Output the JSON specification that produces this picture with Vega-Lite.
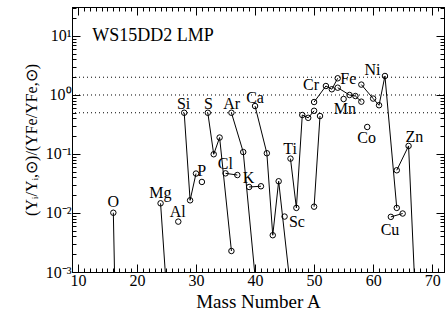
{
  "$schema": "https://vega.github.io/schema/vega-lite/v6.json",
  "width": 372,
  "height": 265,
  "autosize": "none",
  "padding": {"left": 72, "top": 7, "right": 1, "bottom": 40},
  "background": "white",
  "view": {"stroke": "black", "strokeWidth": 1},
  "config": {"font": "Liberation Serif", "text": {"font": "Liberation Serif"}, "axis": {"labelFont": "Liberation Serif", "titleFont": "Liberation Serif"}},
  "datasets": {
    "iso": [
      {"el": "O", "A": 16, "r": 0.0101}, {"el": "O", "A": 17, "r": 1e-7}, {"el": "O", "A": 18, "r": 1e-7},
      {"el": "Mg", "A": 24, "r": 0.0146}, {"el": "Mg", "A": 25, "r": 0.0005}, {"el": "Mg", "A": 26, "r": 0.0003},
      {"el": "Al", "A": 27, "r": 0.00714},
      {"el": "Si", "A": 28, "r": 0.5}, {"el": "Si", "A": 29, "r": 0.0164}, {"el": "Si", "A": 30, "r": 0.0466},
      {"el": "P", "A": 31, "r": 0.0336},
      {"el": "S", "A": 32, "r": 0.5}, {"el": "S", "A": 33, "r": 0.099}, {"el": "S", "A": 34, "r": 0.19}, {"el": "S", "A": 36, "r": 0.00227},
      {"el": "Cl", "A": 35, "r": 0.047}, {"el": "Cl", "A": 37, "r": 0.044},
      {"el": "Ar", "A": 36, "r": 0.5}, {"el": "Ar", "A": 38, "r": 0.108}, {"el": "Ar", "A": 40, "r": 0.00085},
      {"el": "K", "A": 39, "r": 0.0276}, {"el": "K", "A": 41, "r": 0.0284},
      {"el": "Ca", "A": 40, "r": 0.65}, {"el": "Ca", "A": 42, "r": 0.103}, {"el": "Ca", "A": 43, "r": 0.0042}, {"el": "Ca", "A": 44, "r": 0.0345}, {"el": "Ca", "A": 46, "r": 0.00054}, {"el": "Ca", "A": 48, "r": 1e-5},
      {"el": "Sc", "A": 45, "r": 0.0087},
      {"el": "Ti", "A": 46, "r": 0.0835}, {"el": "Ti", "A": 47, "r": 0.0122}, {"el": "Ti", "A": 48, "r": 0.458}, {"el": "Ti", "A": 49, "r": 0.41}, {"el": "Ti", "A": 50, "r": 0.54},
      {"el": "V", "A": 50, "r": 0.0128}, {"el": "V", "A": 51, "r": 0.44},
      {"el": "Cr", "A": 50, "r": 0.76}, {"el": "Cr", "A": 52, "r": 1.42}, {"el": "Cr", "A": 53, "r": 1.25}, {"el": "Cr", "A": 54, "r": 1.92},
      {"el": "Mn", "A": 55, "r": 0.855},
      {"el": "Fe", "A": 54, "r": 1.33}, {"el": "Fe", "A": 56, "r": 1.0}, {"el": "Fe", "A": 57, "r": 0.96}, {"el": "Fe", "A": 58, "r": 0.77},
      {"el": "Co", "A": 59, "r": 0.287},
      {"el": "Ni", "A": 58, "r": 1.5}, {"el": "Ni", "A": 60, "r": 0.87}, {"el": "Ni", "A": 61, "r": 0.67}, {"el": "Ni", "A": 62, "r": 2.1}, {"el": "Ni", "A": 64, "r": 0.0122},
      {"el": "Cu", "A": 63, "r": 0.0086}, {"el": "Cu", "A": 65, "r": 0.0098},
      {"el": "Zn", "A": 64, "r": 0.053}, {"el": "Zn", "A": 66, "r": 0.137}, {"el": "Zn", "A": 67, "r": 0.0008}, {"el": "Zn", "A": 68, "r": 0.0003}, {"el": "Zn", "A": 70, "r": 1e-5}
    ],
    "labels": [
      {"t": "O", "A": 16, "r": 0.0154},
      {"t": "Mg", "A": 23.96, "r": 0.0216},
      {"t": "Al", "A": 26.89, "r": 0.0102},
      {"t": "Si", "A": 27.9, "r": 0.715},
      {"t": "P", "A": 30.95, "r": 0.0515},
      {"t": "S", "A": 32.09, "r": 0.715},
      {"t": "Cl", "A": 34.96, "r": 0.0669},
      {"t": "Ar", "A": 36.03, "r": 0.715},
      {"t": "K", "A": 38.91, "r": 0.0387},
      {"t": "Ca", "A": 40.0, "r": 0.904},
      {"t": "Ti", "A": 45.92, "r": 0.1235},
      {"t": "Sc", "A": 47.1, "r": 0.00704},
      {"t": "Cr", "A": 49.47, "r": 1.46},
      {"t": "Fe", "A": 55.79, "r": 1.85},
      {"t": "Mn", "A": 55.23, "r": 0.573},
      {"t": "Ni", "A": 59.9, "r": 2.62},
      {"t": "Co", "A": 58.89, "r": 0.19},
      {"t": "Zn", "A": 66.97, "r": 0.197},
      {"t": "Cu", "A": 62.85, "r": 0.00515}
    ],
    "refs": [{"r": 0.5}, {"r": 1}, {"r": 2}],
    "ttl": [{"t": "WS15DD2 LMP", "A": 12.44, "r": 10}]
  },
  "resolve": {"axis": {"x": "independent", "y": "independent"}},
  "layer": [
    {
      "data": {"name": "refs"},
      "mark": {"type": "rule", "color": "black", "strokeWidth": 1, "strokeDash": [1, 3]},
      "encoding": {
        "y": {
          "field": "r", "type": "quantitative",
          "scale": {"type": "log", "domain": [0.001, 31]},
          "axis": {
            "orient": "left",
            "values": [0.001, 0.002, 0.003, 0.004, 0.005, 0.006, 0.007, 0.008, 0.009, 0.01, 0.02, 0.03, 0.04, 0.05, 0.06, 0.07, 0.08, 0.09, 0.1, 0.2, 0.3, 0.4, 0.5, 0.6, 0.7, 0.8, 0.9, 1, 2, 3, 4, 5, 6, 7, 8, 9, 10, 20, 30],
            "labelExpr": "datum.value == 0.001 ? '10⁻³' : datum.value == 0.01 ? '10⁻²' : datum.value == 0.1 ? '10⁻¹' : datum.value == 1 ? '10⁰' : datum.value == 10 ? '10¹' : ''",
            "tickSize": {"condition": {"test": "indexof([0.001, 0.01, 0.1, 1, 10], datum.value) >= 0", "value": -8}, "value": -4},
            "tickColor": "black", "domainColor": "black", "grid": false,
            "labelFont": "Liberation Serif", "labelFontSize": 16, "labelColor": "black", "labelPadding": 9, "labelFlush": false, "labelOverlap": false,
            "title": "(Yᵢ/Yᵢ,⊙)/(YFe/YFe,⊙)", "titleFont": "Liberation Serif", "titleFontSize": 16, "titleFontWeight": "normal", "titleColor": "black", "titlePadding": 6
          }
        }
      }
    },
    {
      "data": {"name": "iso"},
      "mark": {"type": "line", "color": "black", "strokeWidth": 1, "clip": true},
      "encoding": {
        "x": {
          "field": "A", "type": "quantitative",
          "scale": {"domain": [9, 72], "nice": false, "zero": false},
          "axis": {
            "orient": "bottom",
            "values": [9, 10, 11, 12, 13, 14, 15, 16, 17, 18, 19, 20, 21, 22, 23, 24, 25, 26, 27, 28, 29, 30, 31, 32, 33, 34, 35, 36, 37, 38, 39, 40, 41, 42, 43, 44, 45, 46, 47, 48, 49, 50, 51, 52, 53, 54, 55, 56, 57, 58, 59, 60, 61, 62, 63, 64, 65, 66, 67, 68, 69, 70, 71, 72],
            "labelExpr": "datum.value % 10 == 0 ? datum.label : ''",
            "tickSize": {"condition": {"test": "datum.value % 10 == 0", "value": -8}, "value": -4},
            "tickColor": "black", "domainColor": "black", "grid": false,
            "labelFont": "Liberation Serif", "labelFontSize": 16, "labelColor": "black", "labelPadding": 8, "labelFlush": false, "labelOverlap": false,
            "title": "Mass Number A", "titleFont": "Liberation Serif", "titleFontSize": 19, "titleFontWeight": "normal", "titleColor": "black", "titlePadding": 0
          }
        },
        "y": {"field": "r", "type": "quantitative", "scale": {"type": "log", "domain": [0.001, 31]}, "axis": null},
        "detail": {"field": "el"},
        "order": {"field": "A"}
      }
    },
    {
      "data": {"name": "iso"},
      "mark": {"type": "point", "shape": "circle", "filled": false, "color": "black", "size": 30, "strokeWidth": 1, "opacity": 1, "clip": true},
      "encoding": {
        "x": {
          "field": "A", "type": "quantitative",
          "scale": {"domain": [9, 72], "nice": false, "zero": false},
          "axis": {
            "orient": "top",
            "values": [9, 10, 11, 12, 13, 14, 15, 16, 17, 18, 19, 20, 21, 22, 23, 24, 25, 26, 27, 28, 29, 30, 31, 32, 33, 34, 35, 36, 37, 38, 39, 40, 41, 42, 43, 44, 45, 46, 47, 48, 49, 50, 51, 52, 53, 54, 55, 56, 57, 58, 59, 60, 61, 62, 63, 64, 65, 66, 67, 68, 69, 70, 71, 72],
            "labels": false, "title": null,
            "tickSize": {"condition": {"test": "datum.value % 10 == 0", "value": -8}, "value": -4},
            "tickColor": "black", "domainColor": "black", "grid": false
          }
        },
        "y": {
          "field": "r", "type": "quantitative",
          "scale": {"type": "log", "domain": [0.001, 31]},
          "axis": {
            "orient": "right",
            "values": [0.001, 0.002, 0.003, 0.004, 0.005, 0.006, 0.007, 0.008, 0.009, 0.01, 0.02, 0.03, 0.04, 0.05, 0.06, 0.07, 0.08, 0.09, 0.1, 0.2, 0.3, 0.4, 0.5, 0.6, 0.7, 0.8, 0.9, 1, 2, 3, 4, 5, 6, 7, 8, 9, 10, 20, 30],
            "labels": false, "title": null,
            "tickSize": {"condition": {"test": "indexof([0.001, 0.01, 0.1, 1, 10], datum.value) >= 0", "value": -8}, "value": -4},
            "tickColor": "black", "domainColor": "black", "grid": false
          }
        }
      }
    },
    {
      "data": {"name": "labels"},
      "mark": {"type": "text", "font": "Liberation Serif", "fontSize": 16, "color": "black", "align": "center", "baseline": "middle"},
      "encoding": {
        "x": {"field": "A", "type": "quantitative", "scale": {"domain": [9, 72], "nice": false, "zero": false}, "axis": null},
        "y": {"field": "r", "type": "quantitative", "scale": {"type": "log", "domain": [0.001, 31]}, "axis": null},
        "text": {"field": "t"}
      }
    },
    {
      "data": {"name": "ttl"},
      "mark": {"type": "text", "font": "Liberation Serif", "fontSize": 18, "color": "black", "align": "left", "baseline": "middle"},
      "encoding": {
        "x": {"field": "A", "type": "quantitative", "scale": {"domain": [9, 72], "nice": false, "zero": false}, "axis": null},
        "y": {"field": "r", "type": "quantitative", "scale": {"type": "log", "domain": [0.001, 31]}, "axis": null},
        "text": {"field": "t"}
      }
    }
  ]
}
